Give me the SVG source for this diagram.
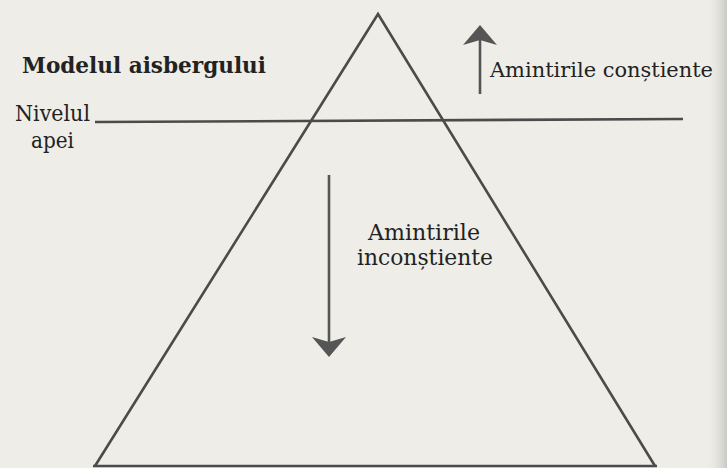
<svg xmlns="http://www.w3.org/2000/svg" width="727" height="468" viewBox="0 0 727 468">
  <defs>
    <linearGradient id="edge" x1="0" y1="0" x2="1" y2="0">
      <stop offset="0" stop-color="#edece6" stop-opacity="0"/>
      <stop offset="1" stop-color="#c9c9c4"/>
    </linearGradient>
    <style>
      .ln { fill: none; stroke: #4b4b4b; stroke-width: 2.6; stroke-linecap: butt; stroke-linejoin: miter; }
      .sh { fill: none; stroke: #555555; stroke-width: 2.6; }
      .hd { fill: #555555; stroke: none; }
      .tx { font-family: "DejaVu Serif", "Liberation Serif", serif; font-size: 22.5px; fill: #222222; }
      .tt { font-family: "DejaVu Serif", "Liberation Serif", serif; font-size: 22.5px; font-weight: bold; fill: #222222; }
    </style>
  </defs>
  <rect x="0" y="0" width="727" height="468" fill="#eeede7"/>
  <rect x="706" y="0" width="21" height="468" fill="url(#edge)"/>

  <g id="title">
    <text class="tt" x="22" y="73" textLength="244" lengthAdjust="spacingAndGlyphs">Modelul aisbergului</text>
  </g>

  <g id="iceberg">
    <path class="ln" d="M95,466 L378,14 L655,466"/>
    <line class="ln" x1="93" y1="466" x2="657" y2="466"/>
  </g>

  <g id="water-level">
    <line class="ln" x1="95" y1="122" x2="683" y2="119"/>
    <text class="tx" x="15" y="121" textLength="75" lengthAdjust="spacingAndGlyphs">Nivelul</text>
    <text class="tx" x="31" y="148" textLength="43" lengthAdjust="spacingAndGlyphs">apei</text>
  </g>

  <g id="conscious">
    <text class="tx" x="490" y="77" style="font-size:21.2px" textLength="223" lengthAdjust="spacingAndGlyphs">Amintirile conștiente</text>
  </g>

  <g id="unconscious">
    <text class="tx" x="368" y="240" textLength="112" lengthAdjust="spacingAndGlyphs">Amintirile</text>
    <text class="tx" x="357" y="265" textLength="136" lengthAdjust="spacingAndGlyphs">inconștiente</text>
  </g>

  <g id="connectors">
    <line class="sh" x1="480" y1="94" x2="480" y2="38"/>
    <path class="hd" d="M480,25 L497,45 L480,40 L463,45 Z"/>
    <line class="sh" x1="329" y1="175" x2="329" y2="342"/>
    <path class="hd" d="M329,357 L346,337 L329,342 L312,337 Z"/>
  </g>
</svg>
